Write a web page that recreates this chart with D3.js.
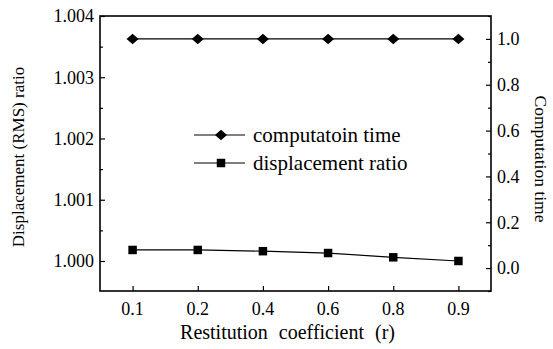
<!DOCTYPE html>
<html>
<head>
<meta charset="utf-8">
<script src="https://cdn.jsdelivr.net/npm/d3@7"></script>
<style>
  body { margin: 0; background: #fff; }
  svg text { font-family: "Liberation Serif", "Times New Roman", serif; fill: #000; }
</style>
</head>
<body>
<div id="chart-area"></div>
<script>
const categories = ["0.1", "0.2", "0.4", "0.6", "0.8", "0.9"];
const dispRatio = [1.00018, 1.00018, 1.00016, 1.00013, 1.00006, 1.00000];
const compTime = [1.0, 1.0, 1.0, 1.0, 1.0, 1.0];
const leftTicks = [1.000, 1.001, 1.002, 1.003, 1.004];
const rightTicks = [0.0, 0.2, 0.4, 0.6, 0.8, 1.0];

const margin = {top: 16, right: 62, bottom: 58, left: 100};
const W = 553, H = 349;
const width = W - margin.left - margin.right;
const height = H - margin.top - margin.bottom;

const svg = d3.select('#chart-area')
  .append('svg')
  .attr('width', W)
  .attr('height', H);

const g = svg.append('g')
  .attr('transform', `translate(${margin.left}, ${margin.top})`);

const x = d3.scalePoint()
  .domain(categories)
  .range([0, width])
  .padding(0.5);

const yL = d3.scaleLinear().domain([0.99951, 1.0040]).range([height, 0]);
const yR = d3.scaleLinear().domain([-0.1, 1.1]).range([height, 0]);

// minor ticks
const leftMinor = d3.range(1.0005, 1.004, 0.001);
const rightMinor = d3.range(-0.1, 1.1, 0.2);

g.append('g')
  .call(d3.axisRight(yL).tickValues(leftTicks).tickSize(5).tickFormat(''))
  .call(a => a.select('.domain').remove());
g.append('g')
  .call(d3.axisRight(yL).tickValues(leftMinor).tickSize(3).tickFormat(''))
  .call(a => a.select('.domain').remove());

g.append('g')
  .attr('transform', `translate(${width},0)`)
  .call(d3.axisLeft(yR).tickValues(rightTicks).tickSize(5).tickFormat(''))
  .call(a => a.select('.domain').remove());
g.append('g')
  .attr('transform', `translate(${width},0)`)
  .call(d3.axisLeft(yR).tickValues(rightMinor).tickSize(3).tickFormat(''))
  .call(a => a.select('.domain').remove());

g.append('g')
  .attr('transform', `translate(0,${height})`)
  .call(d3.axisTop(x).tickSize(5).tickFormat(''))
  .call(a => a.select('.domain').remove());

g.selectAll('.tick line').attr('stroke', '#000').attr('stroke-width', 1.2);

// tick labels
g.selectAll('.lt')
  .data(leftTicks)
  .enter().append('text')
  .attr('x', -6)
  .attr('y', d => yL(d))
  .attr('dy', '0.35em')
  .attr('text-anchor', 'end')
  .attr('font-size', 18)
  .text(d => d.toFixed(3));

g.selectAll('.rt')
  .data(rightTicks)
  .enter().append('text')
  .attr('x', width + 6)
  .attr('y', d => yR(d))
  .attr('dy', '0.35em')
  .attr('font-size', 18)
  .text(d => d.toFixed(1));

g.selectAll('.bt')
  .data(categories)
  .enter().append('text')
  .attr('x', d => x(d))
  .attr('y', height + 18)
  .attr('dy', '0.35em')
  .attr('text-anchor', 'middle')
  .attr('font-size', 18)
  .text(d => d);

// frame
g.append('rect')
  .attr('width', width)
  .attr('height', height)
  .attr('fill', 'none')
  .attr('stroke', '#000')
  .attr('stroke-width', 1.6);

// axis titles
svg.append('text')
  .attr('transform', `translate(${margin.left + width / 2 - 8}, 332)`)
  .attr('text-anchor', 'middle')
  .attr('dy', '0.35em')
  .attr('font-size', 20)
  .attr('word-spacing', 6)
  .text('Restitution coefficient (r)');

svg.append('text')
  .attr('transform', `translate(18, 157) rotate(-90)`)
  .attr('text-anchor', 'middle')
  .attr('dy', '0.35em')
  .attr('font-size', 17)
  .text('Displacement (RMS) ratio');

svg.append('text')
  .attr('transform', `translate(541, 159) rotate(90)`)
  .attr('text-anchor', 'middle')
  .attr('dy', '0.35em')
  .attr('font-size', 17.5)
  .text('Computation time');

// series
const line = d3.line();
const compPts = categories.map((c, i) => [x(c), yR(compTime[i])]);
const dispPts = categories.map((c, i) => [x(c), yL(dispRatio[i])]);

g.append('path').attr('d', line(compPts)).attr('fill', 'none').attr('stroke', '#000').attr('stroke-width', 1.2);
g.append('path').attr('d', line(dispPts)).attr('fill', 'none').attr('stroke', '#000').attr('stroke-width', 1.2);

const diamond = d3.symbol().type(d3.symbolDiamond2).size(70);
const square = d3.symbol().type(d3.symbolSquare).size(72);

g.selectAll('.dm')
  .data(compPts)
  .enter().append('path')
  .attr('transform', d => `translate(${d[0]},${d[1]}) scale(1.15,1)`)
  .attr('d', diamond);

g.selectAll('.sq')
  .data(dispPts)
  .enter().append('path')
  .attr('transform', d => `translate(${d[0]},${d[1]})`)
  .attr('d', square);

// legend
const legend = svg.append('g').attr('transform', 'translate(194, 135)');
const legendItems = [
  {label: 'computatoin time', sym: diamond, sx: 1.15},
  {label: 'displacement ratio', sym: square, sx: 1}
];
legendItems.forEach((it, i) => {
  const row = legend.append('g').attr('transform', `translate(0, ${i * 28})`);
  row.append('line').attr('x1', 0).attr('x2', 51).attr('y1', 0).attr('y2', 0)
    .attr('stroke', '#000').attr('stroke-width', 1.2);
  row.append('path').attr('transform', `translate(27,0) scale(${it.sx},1)`).attr('d', it.sym);
  row.append('text').attr('x', 59).attr('dy', '0.35em').attr('font-size', 21).text(it.label);
});
</script>
</body>
</html>
